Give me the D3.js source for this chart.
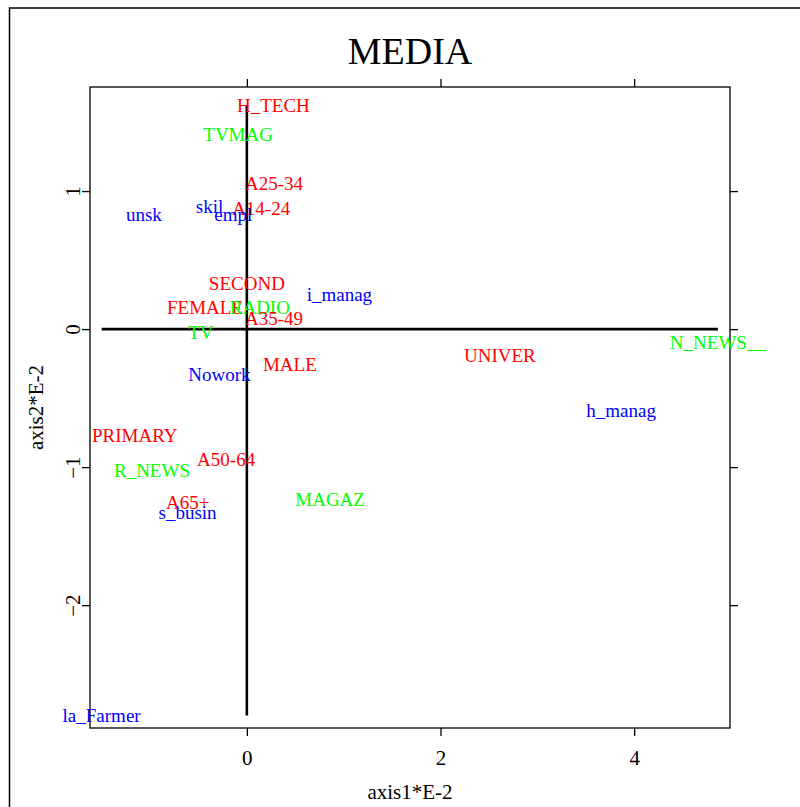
<!DOCTYPE html>
<html>
<head>
<meta charset="utf-8">
<script src="https://cdn.jsdelivr.net/npm/d3@7"></script>
<style>
  body { margin: 0; background: #fff; }
  svg { display: block; }
  svg text { font-family: 'Liberation Serif', 'Times New Roman', serif; }
</style>
</head>
<body>
<div id="chart"></div>
<script>
// category labels and their coordinates on the first two axes (x E-2)
const labels = ['H_TECH', 'TVMAG', 'A25-34', 'A14-24', 'skil', 'empl', 'unsk', 'SECOND',
  'i_manag', 'FEMALE', 'RADIO', 'A35-49', 'TV', 'MALE', 'Nowork', 'PRIMARY', 'A50-64',
  'R_NEWS', 'A65+', 's_busin', 'MAGAZ', 'UNIVER', 'N_NEWS__', 'h_manag', 'la_Farmer']
const axis1 = [0.274, -0.09, 0.281, 0.148, -0.386, -0.14, -1.063, 0.0,
  0.956, -0.432, 0.134, 0.281, -0.475, 0.444, -0.284, -1.158, -0.214,
  -0.98, -0.61, -0.612, 0.86, 2.613, 4.865, 3.866, -1.5]
const axis2 = [1.62, 1.411, 1.056, 0.869, 0.887, 0.826, 0.826, 0.331,
  0.246, 0.154, 0.154, 0.077, -0.027, -0.255, -0.334, -0.769, -0.943,
  -1.023, -1.26, -1.33, -1.233, -0.194, -0.097, -0.595, -2.8]
const groups = ['p', 'm', 'p', 'p', 'o', 'o', 'o', 'p',
  'o', 'p', 'm', 'p', 'm', 'p', 'o', 'p', 'p',
  'm', 'p', 'o', 'm', 'p', 'm', 'o', 'o']
const xTicks = [0, 2, 4]
const yTicks = [-2, -1, 0, 1]

const colors = { p: '#ff0000', m: '#00ff00', o: '#0000ff' }
const points = labels.map((name, i) => ({ name, x: axis1[i], y: axis2[i], g: groups[i] }))

const width = 800
const height = 807
const box = { left: 90, right: 730, top: 87, bottom: 728 }
const serif = "'Liberation Serif', 'Times New Roman', serif"

const svg = d3.select('#chart').append('svg')
  .attr('width', width)
  .attr('height', height)

// outer frame (runs off the page on the right and bottom)
svg.append('rect')
  .attr('x', 9.5).attr('y', 8)
  .attr('width', 900).attr('height', 900)
  .attr('fill', 'none')
  .attr('stroke', '#000')
  .attr('stroke-width', 1.5)

const x = d3.scaleLinear().domain([-1.62, 4.99]).range([box.left, box.right])
const y = d3.scaleLinear().domain([-2.89, 1.754]).range([box.bottom, box.top])
const fmt = d3.format('d')

// axes on all four sides, labels only bottom and left
const gx = svg.append('g')
  .attr('transform', `translate(0,${box.bottom})`)
  .call(d3.axisBottom(x).tickValues(xTicks).tickFormat(fmt).tickSize(8).tickSizeOuter(0).tickPadding(14))
gx.selectAll('text').style('font-size', '21px').style('font-family', serif).attr('dy', '0.71em')

svg.append('g')
  .attr('transform', `translate(0,${box.top})`)
  .call(d3.axisTop(x).tickValues(xTicks).tickSize(8).tickSizeOuter(0).tickFormat(''))

const gy = svg.append('g')
  .attr('transform', `translate(${box.left},0)`)
  .call(d3.axisLeft(y).tickValues(yTicks).tickFormat(fmt).tickSize(8).tickSizeOuter(0))
gy.selectAll('text')
  .style('font-size', '21px')
  .style('font-family', serif)
  .attr('x', 0)
  .attr('dy', 0)
  .attr('text-anchor', 'middle')
  .attr('transform', 'translate(-10,0) rotate(-90)')

svg.append('g')
  .attr('transform', `translate(${box.right},0)`)
  .call(d3.axisRight(y).tickValues(yTicks).tickSize(8).tickSizeOuter(0).tickFormat(''))

svg.selectAll('.domain').remove()
svg.selectAll('.tick line').attr('stroke', '#000').attr('stroke-width', 1.3)

svg.append('rect')
  .attr('x', box.left).attr('y', box.top)
  .attr('width', box.right - box.left)
  .attr('height', box.bottom - box.top)
  .attr('fill', 'none')
  .attr('stroke', '#000')
  .attr('stroke-width', 1.3)

// thick axis lines through the origin, spanning the data range
const xExt = d3.extent(points, d => d.x)
const yExt = d3.extent(points, d => d.y)
svg.append('line')
  .attr('x1', x(xExt[0])).attr('x2', x(xExt[1]))
  .attr('y1', y(0)).attr('y2', y(0))
  .attr('stroke', '#000').attr('stroke-width', 2.6)
svg.append('line')
  .attr('x1', x(0)).attr('x2', x(0))
  .attr('y1', y(yExt[0])).attr('y2', y(yExt[1]))
  .attr('stroke', '#000').attr('stroke-width', 2.6)

// labels
svg.selectAll('text.lab')
  .data(points)
  .enter()
  .append('text')
  .attr('class', 'lab')
  .attr('x', d => x(d.x))
  .attr('y', d => y(d.y))
  .attr('dy', '0.33em')
  .attr('text-anchor', 'middle')
  .attr('fill', d => colors[d.g])
  .style('font-size', '19px')
  .text(d => d.name)

// titles
svg.append('text')
  .attr('x', (box.left + box.right) / 2)
  .attr('y', 64)
  .attr('text-anchor', 'middle')
  .style('font-size', '38px')
  .text('MEDIA')

svg.append('text')
  .attr('x', (box.left + box.right) / 2)
  .attr('y', 799)
  .attr('text-anchor', 'middle')
  .style('font-size', '21px')
  .text('axis1*E-2')

svg.append('text')
  .attr('transform', `translate(43,${(box.top + box.bottom) / 2}) rotate(-90)`)
  .attr('text-anchor', 'middle')
  .style('font-size', '21px')
  .text('axis2*E-2')
</script>
</body>
</html>
